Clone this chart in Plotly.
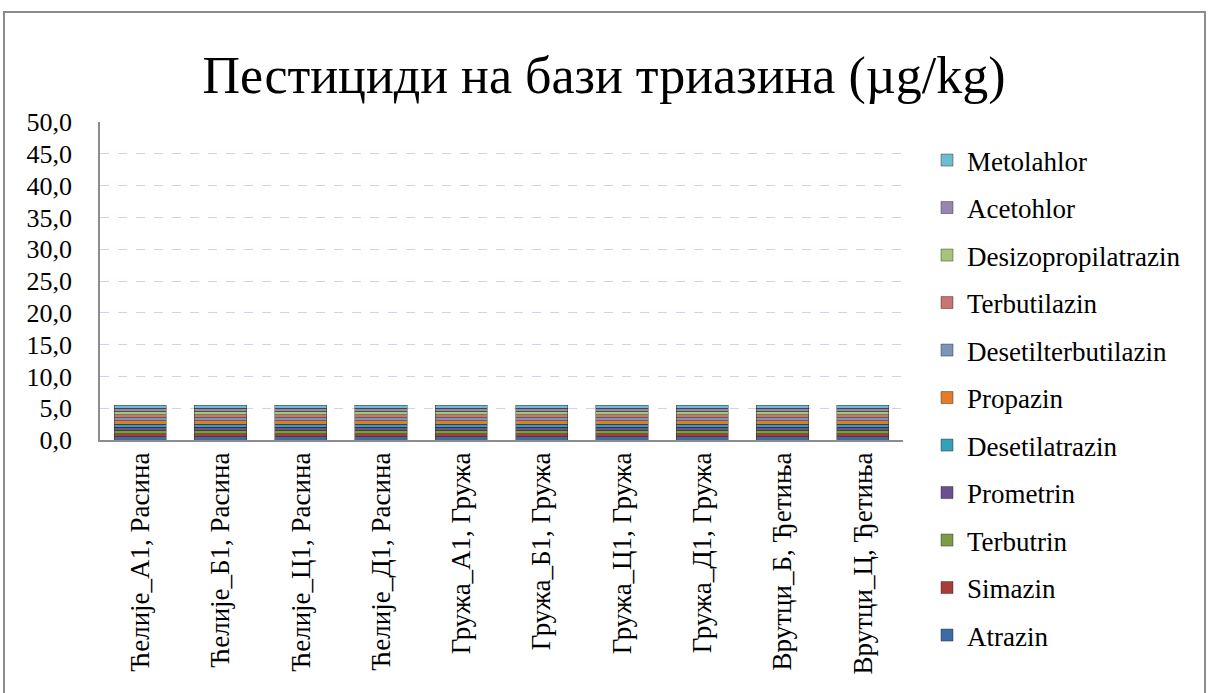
import plotly.graph_objects as go

# Sampling sites (x-axis categories)
sites = [
    "Ћелије_А1, Расина", "Ћелије_Б1, Расина", "Ћелије_Ц1, Расина", "Ћелије_Д1, Расина",
    "Гружа_А1, Гружа", "Гружа_Б1, Гружа", "Гружа_Ц1, Гружа", "Гружа_Д1, Гружа",
    "Врутци_Б, Ђетиња", "Врутци_Ц, Ђетиња",
]

# Pesticides, stacked bottom to top
pesticides = [
    "Atrazin", "Simazin", "Terbutrin", "Prometrin", "Desetilatrazin", "Propazin",
    "Desetilterbutilazin", "Terbutilazin", "Desizopropilatrazin", "Acetohlor", "Metolahlor",
]

# Concentrations (µg/kg) per pesticide, one value per site
atrazin = [0.5] * 10
simazin = [0.5] * 10
terbutrin = [0.5] * 10
prometrin = [0.5] * 10
desetilatrazin = [0.5] * 10
propazin = [0.5] * 10
desetilterbutilazin = [0.5] * 10
terbutilazin = [0.5] * 10
desizopropilatrazin = [0.5] * 10
acetohlor = [0.5] * 10
metolahlor = [0.5] * 10

values = [atrazin, simazin, terbutrin, prometrin, desetilatrazin, propazin,
          desetilterbutilazin, terbutilazin, desizopropilatrazin, acetohlor, metolahlor]

colors = ["#3D6BA8", "#A93B38", "#7F9C45", "#6A5090", "#35A0BA", "#E57B26",
          "#7D94B9", "#C77472", "#A8C47A", "#9985B4", "#6EBCD0"]

y_ticks = [i * 5 for i in range(11)]
y_tick_text = [f"{v:.1f}".replace(".", ",") for v in y_ticks]

SERIF = "Liberation Serif, DejaVu Serif, serif"

fig = go.Figure()
for i, (name, vals, col) in enumerate(zip(pesticides, values, colors)):
    fig.add_trace(go.Bar(
        x=sites, y=vals, name=name, legendgroup=name, legendrank=1000 - i,
        marker=dict(color=col, line=dict(color="rgba(30,30,30,0.7)", width=0.6)),
    ))

# Plot area geometry in pixels (for paper-coordinate conversions)
L, R, T, B = 100, 903, 122, 440
W, H = R - L, B - T

def px(xp):
    return (xp - L) / W

def py(yp):
    return (B - yp) / H

fig.update_layout(
    width=1208, height=693,
    margin=dict(l=L, r=1208 - R, t=T, b=693 - B),
    paper_bgcolor="white", plot_bgcolor="white",
    barmode="stack", bargap=0.35,
    font=dict(family=SERIF, color="black"),
    title=dict(text="Пестициди на бази триазина (µg/kg)", x=0.5, xanchor="center",
               y=1 - 75 / 693, yanchor="middle",
               font=dict(family=SERIF, size=52, color="black")),
    showlegend=True,
    legend=dict(x=px(927), y=py(136), xanchor="left", yanchor="top",
                traceorder="grouped", tracegroupgap=9.4, maxheight=650,
                font=dict(family=SERIF, size=27, color="black"),
                bgcolor="rgba(0,0,0,0)"),
    xaxis=dict(tickangle=-90, showline=True, linecolor="#8C8C8C", linewidth=1.5,
               tickfont=dict(family=SERIF, size=27, color="black"),
               showgrid=False, ticks=""),
    yaxis=dict(range=[0, 50], tickvals=y_ticks, ticktext=y_tick_text,
               showline=True, linecolor="#8C8C8C", linewidth=1.5,
               gridcolor="#C5D7EF", griddash="dash", gridwidth=1,
               zeroline=False, ticks="", ticklabelstandoff=21,
               tickfont=dict(family=SERIF, size=26, color="black")),
    shapes=[dict(type="rect", xref="paper", yref="paper",
                 x0=px(4), x1=px(1205), y0=py(710), y1=py(12),
                 line=dict(color="#8C8C8C", width=2), fillcolor="rgba(0,0,0,0)",
                 layer="below")],
)

fig.write_html("out.html")
